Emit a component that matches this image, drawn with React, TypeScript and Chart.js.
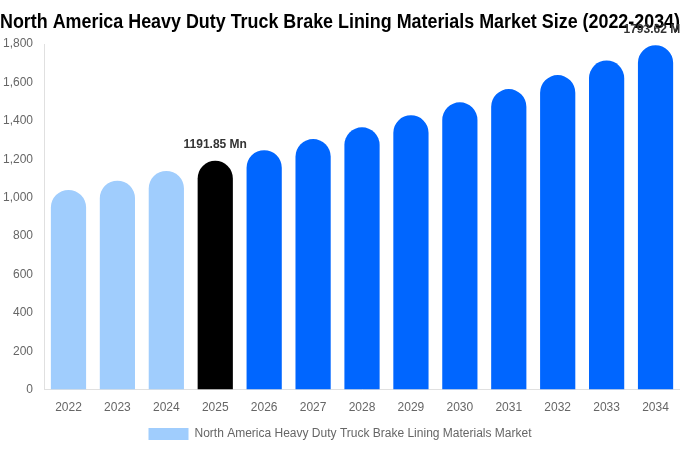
import React, { useEffect, useRef } from "react";
import { Chart, registerables } from "chart.js";

Chart.register(...registerables);

const years = ["2022", "2023", "2024", "2025", "2026", "2027", "2028", "2029", "2030", "2031", "2032", "2033", "2034"];
const marketSize = [1040, 1088, 1139, 1191.85, 1247, 1305, 1366, 1429, 1496, 1565, 1638, 1714, 1793.62];
const barColors = [
  "#a0cdfd", "#a0cdfd", "#a0cdfd", "#000000",
  "#0066ff", "#0066ff", "#0066ff", "#0066ff", "#0066ff",
  "#0066ff", "#0066ff", "#0066ff", "#0066ff",
];
const labelledIdx = [3, 12];
const seriesName = "North America Heavy Duty Truck Brake Lining Materials Market";
const chartTitle = "North America Heavy Duty Truck Brake Lining Materials Market Size (2022-2034)";

// draws the "xxx Mn" labels above the highlighted bars
const valueLabels = {
  id: "valueLabels",
  afterDatasetsDraw(chart: any) {
    const ctx = chart.ctx;
    const meta = chart.getDatasetMeta(0);
    ctx.save();
    ctx.font = "bold 12px 'Liberation Sans', Arial, sans-serif";
    ctx.fillStyle = "#333333";
    ctx.textAlign = "center";
    ctx.textBaseline = "middle";
    labelledIdx.forEach((i) => {
      const bar = meta.data[i];
      ctx.fillText(marketSize[i].toFixed(2) + " Mn", bar.x, bar.y - 16);
    });
    ctx.restore();
  },
};

const App: React.FC = () => {
  const canvasRef = useRef<HTMLCanvasElement>(null);
  const chartRef = useRef<Chart | null>(null);

  useEffect(() => {
    document.body.style.margin = "0";
    if (!canvasRef.current) return;
    if (chartRef.current) chartRef.current.destroy();

    chartRef.current = new Chart(canvasRef.current, {
      type: "bar",
      data: {
        labels: years,
        datasets: [
          {
            label: seriesName,
            data: marketSize,
            backgroundColor: barColors,
            borderRadius: { topLeft: 18, topRight: 18, bottomLeft: 0, bottomRight: 0 },
            borderSkipped: false,
            categoryPercentage: 0.8,
            barPercentage: 0.9,
          },
        ],
      },
      options: {
        animation: false,
        responsive: false,
        layout: { padding: { left: 0, right: 0, top: 0, bottom: 0 } },
        plugins: {
          title: {
            display: true,
            text: chartTitle,
            color: "#000000",
            font: { family: "'Liberation Sans Narrow', 'Arial Narrow', sans-serif", size: 20, weight: "bold" },
            padding: { top: 10, bottom: 10 },
          },
          legend: {
            position: "bottom",
            labels: {
              boxWidth: 40,
              boxHeight: 12,
              color: "#666666",
              font: { family: "'Liberation Sans', Arial, sans-serif", size: 12 },
              generateLabels: () => [
                {
                  text: seriesName,
                  fillStyle: "#a0cdfd",
                  strokeStyle: "#a0cdfd",
                  lineWidth: 0,
                  hidden: false,
                  datasetIndex: 0,
                  fontColor: "#666666",
                },
              ],
            },
          },
          tooltip: { enabled: false },
        },
        scales: {
          x: {
            grid: { display: false },
            border: { display: true, color: "#e0e0e0" },
            ticks: { color: "#666666", font: { family: "'Liberation Sans', Arial, sans-serif", size: 12 } },
          },
          y: {
            min: 0,
            max: 1800,
            grid: { display: false },
            border: { display: true, color: "#e0e0e0" },
            ticks: {
              stepSize: 200,
              color: "#666666",
              font: { family: "'Liberation Sans', Arial, sans-serif", size: 12 },
              callback: (v: any) => Number(v).toLocaleString("en-US"),
            },
          },
        },
      },
      plugins: [valueLabels],
    });

    return () => {
      if (chartRef.current) {
        chartRef.current.destroy();
        chartRef.current = null;
      }
    };
  }, []);

  return (
    <div style={{ width: 680, height: 450 }}>
      <canvas ref={canvasRef} width={680} height={450}></canvas>
    </div>
  );
};

export default App;
